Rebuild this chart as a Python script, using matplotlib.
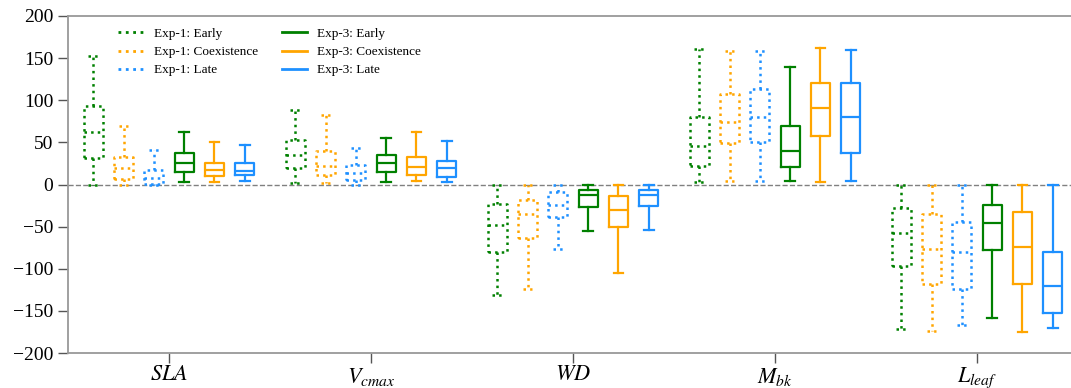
import matplotlib
matplotlib.use("Agg")
import matplotlib.pyplot as plt
from matplotlib.lines import Line2D

plt.rcParams['font.family'] = ['Liberation Serif', 'DejaVu Serif']
plt.rcParams['mathtext.fontset'] = 'stix'

# traits on the x axis
traits = [r'$SLA$', r'$V_{cmax}$', r'$WD$', r'$M_{bk}$', r'$L_{leaf}$']
groups = ['Exp-1: Early', 'Exp-1: Coexistence', 'Exp-1: Late',
          'Exp-3: Early', 'Exp-3: Coexistence', 'Exp-3: Late']

# box stats per group, one row per trait: [whislo, q1, median, q3, whishi]
exp1_early = [[0, 32, 62, 93, 152], [2, 19, 35, 53, 89], [-131, -80, -48, -23, 0],
              [3, 22, 46, 80, 161], [-171, -97, -58, -28, 0]]
exp1_coex = [[0, 6, 19, 33, 70], [2, 11, 22, 40, 82], [-124, -63, -35, -18, 0],
             [4, 49, 74, 108, 159], [-174, -118, -77, -35, 0]]
exp1_late = [[0, 1, 8, 17, 41], [0, 5, 14, 23, 43], [-76, -38, -24, -9, 0],
             [4, 50, 80, 113, 159], [-167, -124, -80, -44, 0]]
exp3_early = [[3, 15, 26, 37, 62], [3, 15, 25, 35, 55], [-55, -27, -12, -6, -1],
              [4, 21, 40, 69, 139], [-159, -78, -46, -24, 0]]
exp3_coex = [[3, 10, 17, 26, 50], [4, 11, 21, 33, 62], [-105, -51, -30, -14, 0],
             [3, 57, 91, 121, 162], [-175, -118, -74, -33, 0]]
exp3_late = [[4, 11, 16, 26, 47], [3, 9, 19, 28, 52], [-54, -25, -13, -6, -1],
              [4, 37, 80, 121, 160], [-170, -152, -120, -80, 0]]

series = [exp1_early, exp1_coex, exp1_late, exp3_early, exp3_coex, exp3_late]
colors = ['green', 'orange', 'dodgerblue'] * 2
styles = [':', ':', ':', '-', '-', '-']

fig = plt.figure(figsize=(10.71, 3.88), dpi=100)
ax = fig.add_axes([68 / 1071, 35 / 388, 1010 / 1071, 337 / 388])

offsets = [-0.375, -0.225, -0.075, 0.075, 0.225, 0.375]
for data, col, ls, off in zip(series, colors, styles, offsets):
    stats = []
    for row in data:
        lo, q1, med, q3, hi = row
        stats.append(dict(whislo=lo, q1=q1, med=med, q3=q3, whishi=hi, fliers=[]))
    pos = [i + off for i in range(len(traits))]
    lw = 1.8 if ls == ':' else 1.6
    props = dict(color=col, linestyle=ls, linewidth=lw)
    ax.bxp(stats, positions=pos, widths=0.095, showfliers=False,
           boxprops=props, whiskerprops=props, capprops=props,
           medianprops=props, manage_ticks=False)

ax.axhline(0, color='gray', linestyle='--', linewidth=1, zorder=0)

ax.set_xlim(-0.5, 4.5)
ax.set_ylim(-200, 200)
ax.set_yticks([-200, -150, -100, -50, 0, 50, 100, 150, 200])
ax.set_xticks(range(len(traits)))
ax.set_xticklabels(traits, fontsize=16)
ax.tick_params(axis='y', labelsize=14, length=7, width=1, color='#555555')
ax.tick_params(axis='x', length=7, width=1, color='#555555', pad=2)

for s in ax.spines.values():
    s.set_color('#999999')
    s.set_linewidth(1.3)

handles = [Line2D([], [], color=c, linestyle=ls, linewidth=2)
           for c, ls in zip(colors, styles)]
ax.legend(handles, groups, ncol=2, frameon=False, fontsize=9.5,
          loc='upper left', bbox_to_anchor=(0.038, 1.0),
          labelspacing=0.45, columnspacing=1.8, handlelength=1.9)

fig.savefig('out.png', dpi=100)
